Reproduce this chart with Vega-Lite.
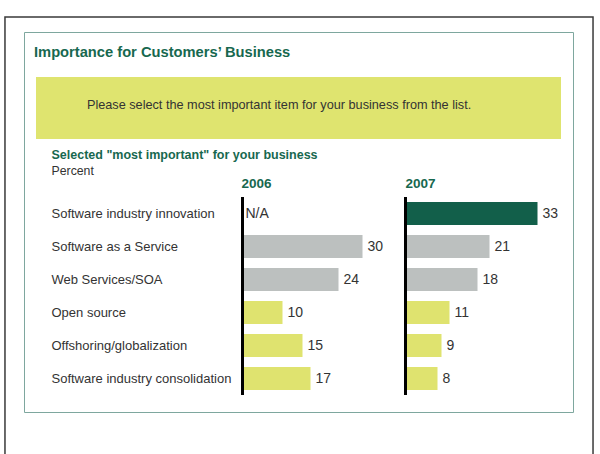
{
  "$schema": "https://vega.github.io/schema/vega-lite/v6.json",
  "width": 549,
  "height": 380,
  "autosize": {"type": "none"},
  "padding": {"left": 24, "top": 32, "right": 27, "bottom": 42},
  "background": "white",
  "title": {
    "text": "Importance for Customers’ Business",
    "anchor": "start",
    "frame": "group",
    "dx": 10,
    "offset": -55.5,
    "baseline": "alphabetic",
    "font": "Liberation Sans",
    "fontSize": 14.7,
    "fontWeight": "bold",
    "color": "#17684f"
  },
  "config": {
    "view": {"stroke": "#7ea79e", "strokeWidth": 1},
    "font": "Liberation Sans",
    "axis": {"grid": false}
  },
  "datasets": {
    "survey": [
      {"category": "Software industry innovation", "year": 2006, "value": null, "label": "N/A"},
      {"category": "Software as a Service", "year": 2006, "value": 30, "label": "30"},
      {"category": "Web Services/SOA", "year": 2006, "value": 24, "label": "24"},
      {"category": "Open source", "year": 2006, "value": 10, "label": "10"},
      {"category": "Offshoring/globalization", "year": 2006, "value": 15, "label": "15"},
      {"category": "Software industry consolidation", "year": 2006, "value": 17, "label": "17"},
      {"category": "Software industry innovation", "year": 2007, "value": 33, "label": "33"},
      {"category": "Software as a Service", "year": 2007, "value": 21, "label": "21"},
      {"category": "Web Services/SOA", "year": 2007, "value": 18, "label": "18"},
      {"category": "Open source", "year": 2007, "value": 11, "label": "11"},
      {"category": "Offshoring/globalization", "year": 2007, "value": 9, "label": "9"},
      {"category": "Software industry consolidation", "year": 2007, "value": 8, "label": "8"}
    ],
    "prompt": [
      {"prompt": "Please select the most important item for your business from the list."}
    ]
  },
  "layer": [
    {
      "data": {"name": "prompt"},
      "layer": [
        {
          "mark": {"type": "rect", "color": "#dfe46f"},
          "encoding": {
            "x": {
              "datum": 0,
              "type": "quantitative",
              "scale": {"domain": [0, 1], "range": [12, 537], "nice": false, "zero": false},
              "axis": {
                "orient": "top",
                "domain": false,
                "ticks": false,
                "labels": false,
                "grid": false,
                "title": "Percent",
                "titleX": 27,
                "titleY": 142,
                "titleAngle": 0,
                "titleAlign": "left",
                "titleBaseline": "alphabetic",
                "titleFont": "Liberation Sans",
                "titleFontSize": 12.3,
                "titleFontWeight": "normal",
                "titleColor": "#333333"
              }
            },
            "x2": {"datum": 1},
            "y": {
              "datum": 0,
              "type": "quantitative",
              "scale": {"domain": [0, 1], "range": [45, 107], "nice": false, "zero": false},
              "axis": null
            },
            "y2": {"datum": 1}
          }
        },
        {
          "mark": {"type": "rect", "fill": null, "fillOpacity": 0, "stroke": "#3a3a3a", "strokeWidth": 1.5},
          "encoding": {
            "x": {"datum": -0.0591, "type": "quantitative"},
            "x2": {"datum": 1.061},
            "y": {"datum": -0.968, "type": "quantitative"},
            "y2": {"datum": 7}
          }
        },
        {
          "mark": {"type": "text", "align": "left", "baseline": "alphabetic", "fontSize": 12.7, "color": "#333333", "font": "Liberation Sans"},
          "encoding": {
            "x": {"datum": 0.097, "type": "quantitative"},
            "y": {"datum": 0.52, "type": "quantitative"},
            "text": {"field": "prompt"}
          }
        }
      ]
    },
    {
      "data": {"name": "survey"},
      "encoding": {
        "y": {
          "field": "category",
          "type": "nominal",
          "sort": ["Software industry innovation", "Software as a Service", "Web Services/SOA", "Open source", "Offshoring/globalization", "Software industry consolidation"],
          "scale": {"range": [165, 363], "paddingInner": 0.3, "paddingOuter": 0.15},
          "axis": {
            "orient": "left",
            "offset": -27,
            "domain": false,
            "ticks": false,
            "tickSize": 0,
            "labelPadding": 0,
            "labelAlign": "left",
            "labelFont": "Liberation Sans",
            "labelFontSize": 13,
            "labelColor": "#333333",
            "labelLimit": 0,
            "title": "Selected \"most important\" for your business",
            "titleAngle": 0,
            "titleAlign": "left",
            "titleBaseline": "alphabetic",
            "titleX": 0,
            "titleY": 126,
            "titleFont": "Liberation Sans",
            "titleFontSize": 12.5,
            "titleFontWeight": "bold",
            "titleColor": "#17684f"
          }
        }
      },
      "layer": [
        {
          "transform": [{"filter": "datum.year == 2006"}],
          "layer": [
            {
              "transform": [{"filter": "isValid(datum.value)"}],
              "mark": {"type": "bar"},
              "encoding": {
                "x": {
                  "field": "value",
                  "type": "quantitative",
                  "scale": {"domain": [0, 40], "range": [218.5, 378.5], "nice": false},
                  "axis": {
                    "orient": "top",
                    "domain": false,
                    "ticks": false,
                    "labels": false,
                    "grid": false,
                    "title": "2006",
                    "titleX": 217,
                    "titleY": 155,
                    "titleAngle": 0,
                    "titleAlign": "left",
                    "titleBaseline": "alphabetic",
                    "titleFont": "Liberation Sans",
                    "titleFontSize": 13.5,
                    "titleFontWeight": "bold",
                    "titleColor": "#17684f"
                  }
                },
                "color": {
                  "field": "category",
                  "type": "nominal",
                  "scale": {
                    "domain": ["Software industry innovation", "Software as a Service", "Web Services/SOA", "Open source", "Offshoring/globalization", "Software industry consolidation"],
                    "range": ["#125f4a", "#bcc0bf", "#bcc0bf", "#dfe36f", "#dfe36f", "#dfe36f"]
                  },
                  "legend": null
                }
              }
            },
            {
              "transform": [{"filter": "isValid(datum.value)"}],
              "mark": {"type": "text", "align": "left", "dx": 5, "fontSize": 14, "color": "#333333", "font": "Liberation Sans"},
              "encoding": {
                "x": {"field": "value", "type": "quantitative"},
                "text": {"field": "label"}
              }
            },
            {
              "transform": [{"filter": "!isValid(datum.value)"}],
              "mark": {"type": "text", "align": "left", "dx": 3, "fontSize": 14, "color": "#333333", "font": "Liberation Sans"},
              "encoding": {
                "x": {"datum": 0, "type": "quantitative"},
                "text": {"field": "label"}
              }
            },
            {
              "mark": {"type": "tick", "thickness": 3, "size": 33, "color": "#000000", "opacity": 1},
              "encoding": {"x": {"datum": 0, "type": "quantitative"}}
            }
          ]
        },
        {
          "transform": [{"filter": "datum.year == 2007"}],
          "layer": [
            {
              "mark": {"type": "bar"},
              "encoding": {
                "x": {
                  "field": "value",
                  "type": "quantitative",
                  "scale": {"domain": [0, 40], "range": [381.5, 541.5], "nice": false},
                  "axis": {
                    "orient": "top",
                    "domain": false,
                    "ticks": false,
                    "labels": false,
                    "grid": false,
                    "title": "2007",
                    "titleX": 381,
                    "titleY": 155,
                    "titleAngle": 0,
                    "titleAlign": "left",
                    "titleBaseline": "alphabetic",
                    "titleFont": "Liberation Sans",
                    "titleFontSize": 13.5,
                    "titleFontWeight": "bold",
                    "titleColor": "#17684f"
                  }
                },
                "color": {
                  "field": "category",
                  "type": "nominal",
                  "scale": {
                    "domain": ["Software industry innovation", "Software as a Service", "Web Services/SOA", "Open source", "Offshoring/globalization", "Software industry consolidation"],
                    "range": ["#125f4a", "#bcc0bf", "#bcc0bf", "#dfe36f", "#dfe36f", "#dfe36f"]
                  },
                  "legend": null
                }
              }
            },
            {
              "mark": {"type": "text", "align": "left", "dx": 5, "fontSize": 14, "color": "#333333", "font": "Liberation Sans"},
              "encoding": {
                "x": {"field": "value", "type": "quantitative"},
                "text": {"field": "label"}
              }
            },
            {
              "mark": {"type": "tick", "thickness": 3, "size": 33, "color": "#000000", "opacity": 1},
              "encoding": {"x": {"datum": 0, "type": "quantitative"}}
            }
          ]
        }
      ],
      "resolve": {"scale": {"x": "independent"}}
    }
  ],
  "resolve": {"scale": {"x": "independent", "y": "independent"}}
}
